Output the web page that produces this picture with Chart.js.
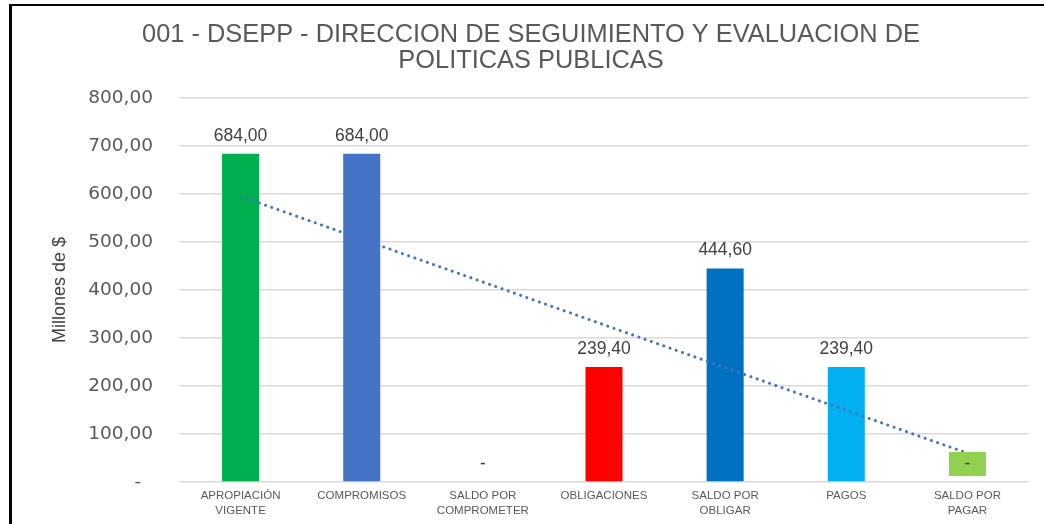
<!DOCTYPE html>
<html>
<head>
<meta charset="utf-8">
<script src="https://cdn.jsdelivr.net/npm/chart.js@4.4.0/dist/chart.umd.min.js"></script>
<style>
    html, body { margin: 0; padding: 0; background: #fff; }
    #wrap { position: relative; width: 1044px; height: 524px; overflow: hidden; }
    #frame { position: absolute; left: 9px; top: 4px; right: -10px; bottom: -10px;
             border-top: 2px solid #000; border-left: 3px solid #000; pointer-events: none; }
</style>
</head>
<body>
<div id="wrap">
    <canvas id="chart" width="1044" height="524"></canvas>
    <div id="frame"></div>
</div>
<script>
// data
const titleLines = ['001 - DSEPP - DIRECCION DE SEGUIMIENTO Y EVALUACION DE', 'POLITICAS PUBLICAS'];
const categories = [
    ['APROPIACIÓN', 'VIGENTE'],
    'COMPROMISOS',
    ['SALDO POR', 'COMPROMETER'],
    'OBLIGACIONES',
    ['SALDO POR', 'OBLIGAR'],
    'PAGOS',
    ['SALDO POR', 'PAGAR']
];
const values = [684, 684, 0, 239.4, 444.6, 239.4, 0];
const barColors = ['#00B050', '#4472C4', '#A5A5A5', '#FF0000', '#0070C0', '#00B0F0', '#92D050'];
const trendValues = [595, null, null, null, null, null, 60];
const yMin = 0, yMax = 800, yStep = 100;
const axisTitle = 'Millones de $';

const fmt = (v) => v === 0 ? '-' : v.toFixed(2).replace('.', ',');

const titlePlugin = {
    id: 'twoLineTitle',
    beforeDraw(chart) {
        const ctx = chart.ctx;
        ctx.save();
        ctx.font = '25.4px "Liberation Sans", Arial, sans-serif';
        ctx.fillStyle = '#595959';
        ctx.textAlign = 'center';
        ctx.textBaseline = 'middle';
        ctx.fillText(titleLines[0], 531, 35);
        ctx.fillText(titleLines[1], 531, 61);
        ctx.restore();
    }
};

const labelPlugin = {
    id: 'valueLabels',
    afterDatasetsDraw(chart) {
        const ctx = chart.ctx;
        const meta = chart.getDatasetMeta(0);
        ctx.save();
        ctx.font = '17.5px "Liberation Sans", Arial, sans-serif';
        ctx.textAlign = 'center';
        ctx.textBaseline = 'middle';
        meta.data.forEach((bar, i) => {
            const y = bar.y - 18;
            if (i === values.length - 1) {
                ctx.fillStyle = barColors[i];
                ctx.fillRect(bar.x - bar.width / 2, y - 12, bar.width, 24);
            }
            ctx.fillStyle = '#404040';
            ctx.fillText(fmt(values[i]), bar.x, y);
        });
        ctx.restore();
    }
};

new Chart(document.getElementById('chart'), {
    type: 'bar',
    data: {
        labels: categories,
        datasets: [
            {
                label: 'Valores',
                data: values,
                backgroundColor: barColors.map((c, i) => i === values.length - 1 ? 'rgba(0,0,0,0)' : c),
                borderWidth: 0,
                categoryPercentage: 0.8,
                barPercentage: 0.382,
                order: 2
            },
            {
                type: 'line',
                label: 'Tendencia',
                data: trendValues,
                spanGaps: true,
                borderColor: '#4472C4',
                borderWidth: 3,
                borderDash: [0.1, 6.5],
                borderCapStyle: 'round',
                pointRadius: 0,
                fill: false,
                order: 1
            }
        ]
    },
    options: {
        responsive: false,
        animation: false,
        layout: { padding: { top: 98, right: 16, left: 0, bottom: 0 } },
        plugins: {
            legend: { display: false },
            tooltip: { enabled: false }
        },
        scales: {
            x: {
                grid: { display: false },
                border: { display: false },
                ticks: {
                    color: '#595959',
                    font: { family: '"Liberation Sans", Arial, sans-serif', size: 11.5, lineHeight: 1.3 },
                    padding: -2,
                    maxRotation: 0,
                    autoSkip: false
                },
                afterFit: (scale) => { scale.height = 42; }
            },
            y: {
                min: yMin,
                max: yMax,
                grid: { color: '#d9d9d9', lineWidth: 1.5, drawTicks: false },
                border: { display: false },
                ticks: {
                    stepSize: yStep,
                    color: '#595959',
                    font: { family: '"DejaVu Sans", sans-serif', size: 18.5 },
                    padding: 27,
                    callback: (v) => v === 0 ? '-  ' : fmt(v)
                },
                title: {
                    display: true,
                    text: axisTitle,
                    color: '#404040',
                    font: { family: '"Liberation Sans", Arial, sans-serif', size: 18 },
                    padding: { top: 49, bottom: 0 }
                },
                afterFit: (scale) => { scale.width = 180; }
            }
        }
    },
    plugins: [titlePlugin, labelPlugin]
});
</script>
</body>
</html>
